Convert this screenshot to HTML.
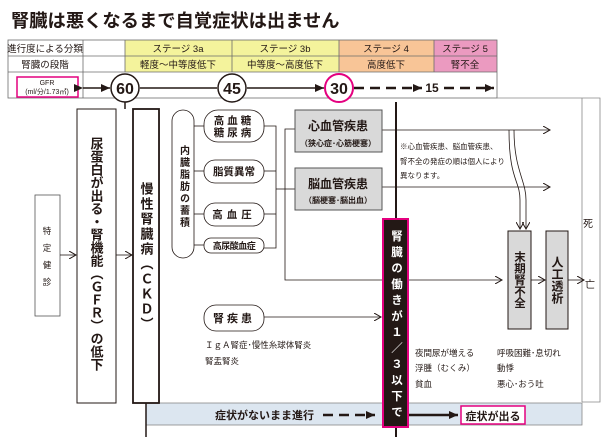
<!DOCTYPE html>
<html><head><meta charset="utf-8"><style>
html,body{margin:0;padding:0;background:#fff}
svg{display:block}
text{font-family:"Liberation Sans","Noto Sans CJK JP",sans-serif;fill:#231815}
.b{font-weight:bold}
.v{writing-mode:vertical-rl;text-anchor:start}
</style></head><body>
<svg width="610" height="437" viewBox="0 0 610 437" xmlns="http://www.w3.org/2000/svg">
<defs>
<marker id="oa" markerWidth="8" markerHeight="8" refX="7" refY="4" orient="auto" markerUnits="userSpaceOnUse"><path d="M0,0 L7,4 L0,8" fill="none" stroke="#231815" stroke-width="1"/></marker>
<marker id="fa" markerWidth="10" markerHeight="10" refX="9" refY="5" orient="auto" markerUnits="userSpaceOnUse"><path d="M0,1 L9,5 L0,9Z" fill="#231815"/></marker>
</defs>
<text x="11" y="27" font-size="18.3" class="b">腎臓は悪くなるまで自覚症状は出ません</text>
<rect x="125" y="40" width="214" height="32" fill="#f4f39c"/>
<rect x="339" y="40" width="95" height="32" fill="#f8c597"/>
<rect x="434" y="40" width="63" height="32" fill="#eb9ac0"/>
<g stroke="#6b6b6b" stroke-width="0.8" fill="none">
<rect x="8" y="40" width="489" height="58"/>
<line x1="8" y1="56" x2="497" y2="56"/><line x1="8" y1="72" x2="497" y2="72"/>
<line x1="83" y1="40" x2="83" y2="98"/><line x1="125" y1="40" x2="125" y2="72"/>
<line x1="232" y1="40" x2="232" y2="72"/><line x1="339" y1="40" x2="339" y2="72"/><line x1="434" y1="40" x2="434" y2="72"/>
</g>
<g font-size="9.5" text-anchor="middle">
<text x="45" y="52">進行度による分類</text><text x="45" y="68">腎臓の段階</text>
<text x="178" y="52">ステージ 3a</text><text x="285" y="52">ステージ 3b</text><text x="386" y="52">ステージ 4</text><text x="465" y="52">ステージ 5</text>
<text x="178" y="68">軽度～中等度低下</text><text x="285" y="68">中等度～高度低下</text><text x="386" y="68">高度低下</text><text x="465" y="68">腎不全</text>
</g>
<rect x="17" y="77" width="61" height="20" fill="none" stroke="#e4007f" stroke-width="1.5"/>
<text x="47" y="85" font-size="7" text-anchor="middle">GFR</text>
<text x="47" y="94" font-size="7" text-anchor="middle">(ml/分/1.73㎡)</text>
<g stroke="#231815" stroke-width="1.5">
<line x1="83" y1="88" x2="110" y2="88" marker-end="url(#fa)" marker-start="url(#fa)"/>
<line x1="140" y1="88" x2="217" y2="88" marker-start="url(#fa)"/>
<line x1="247" y1="88" x2="324" y2="88" marker-end="url(#fa)"/>
<line x1="354" y1="88" x2="422" y2="88" stroke-width="2.5" stroke-dasharray="10,6" marker-end="url(#fa)"/>
<line x1="444" y1="88" x2="494" y2="88" stroke-width="2.5" stroke-dasharray="10,6" marker-end="url(#fa)"/>
</g>
<text x="432" y="92" font-size="12" class="b" text-anchor="middle">15</text>
<g stroke-width="1.5" fill="#fff">
<circle cx="125" cy="88" r="14" stroke="#231815"/>
<circle cx="232" cy="88" r="14" stroke="#231815"/>
<circle cx="339" cy="88" r="14" stroke="#e4007f" stroke-width="2"/>
</g>
<g font-size="16" class="b" text-anchor="middle"><text x="125" y="94">60</text><text x="232" y="94">45</text><text x="339" y="94">30</text></g>
<g stroke="#888" fill="none" stroke-width="0.8">
<polyline points="497,98 600,98 600,402 582,402"/>
<line x1="582" y1="98" x2="582" y2="402"/>
</g>
<line x1="125" y1="102" x2="125" y2="109" stroke="#231815" stroke-width="1.5"/>
<rect x="146" y="403" width="436" height="22" fill="#dce6f0" stroke="#888" stroke-width="0.8"/>
<line x1="146" y1="403" x2="146" y2="437" stroke="#231815" stroke-width="1.5"/>
<line x1="159" y1="112" x2="159" y2="403" stroke="#231815" stroke-width="1.2"/>
<text x="215" y="419" font-size="11" class="b">症状がないまま進行</text>
<line x1="323" y1="415" x2="375" y2="415" stroke="#231815" stroke-width="2.5" stroke-dasharray="10,6" marker-end="url(#fa)"/>
<line x1="408" y1="415" x2="458" y2="415" stroke="#231815" stroke-width="2.5" marker-end="url(#fa)"/>
<rect x="461" y="406" width="64" height="18" fill="#fff" stroke="#e4007f" stroke-width="1.5"/>
<text x="493" y="420" font-size="11" class="b" text-anchor="middle">症状が出る</text>
<rect x="35" y="195" width="25" height="121" fill="#fff" stroke="#555" stroke-width="0.8"/>
<g font-size="8.5" text-anchor="middle"><text x="47" y="234">特</text><text x="47" y="251">定</text><text x="47" y="268">健</text><text x="47" y="285">診</text></g>
<line x1="60" y1="255" x2="76" y2="255" stroke="#231815" stroke-width="0.8" marker-end="url(#oa)"/>
<rect x="77" y="109" width="39" height="294" fill="#fff" stroke="#231815" stroke-width="1"/>
<text x="96" y="137" font-size="13" class="b v">尿蛋白が出る・腎機能（ＧＦＲ）の低下</text>
<line x1="116" y1="255" x2="132" y2="255" stroke="#231815" stroke-width="0.8" marker-end="url(#oa)"/>
<rect x="133" y="109" width="26" height="294" fill="#fff" stroke="#231815" stroke-width="1.8"/>
<text x="146" y="182" font-size="13" class="b v" letter-spacing="2">慢性腎臓病（ＣＫＤ）</text>
<rect x="172" y="110" width="22" height="148" rx="11" fill="#fff" stroke="#231815" stroke-width="0.8"/>
<text x="183" y="145" font-size="10" class="b v" letter-spacing="2">内臓脂肪の蓄積</text>
<g stroke="#231815" stroke-width="0.8" fill="#fff">
<rect x="204" y="110" width="60" height="32" rx="14"/>
<rect x="204" y="160" width="60" height="23" rx="11"/>
<rect x="204" y="203" width="60" height="23" rx="11"/>
<rect x="204" y="238" width="60" height="15" rx="7"/>
<rect x="204" y="305" width="60" height="26" rx="12"/>
</g>
<g stroke="#231815" stroke-width="0.8" fill="none">
<line x1="194" y1="126" x2="204" y2="126"/><line x1="194" y1="171" x2="204" y2="171"/><line x1="194" y1="214" x2="204" y2="214"/><line x1="194" y1="245" x2="204" y2="245"/>
<polyline points="264,126 276,126 276,248 264,248"/><line x1="264" y1="171" x2="276" y2="171"/><line x1="264" y1="214" x2="276" y2="214"/>
<line x1="276" y1="189" x2="285" y2="189"/>
<polyline points="295,129 285,129 285,280 383,280"/>
<line x1="285" y1="189" x2="295" y2="189"/>
<line x1="264" y1="317" x2="381" y2="317" marker-end="url(#oa)"/>
<line x1="382" y1="130" x2="550" y2="130" marker-end="url(#oa)"/>
<line x1="382" y1="187" x2="550" y2="187" marker-end="url(#oa)"/>
<path d="M509,130 C509,180 520,180 520,200 L520,229" marker-end="url(#oa)"/>
<path d="M514,130 C514,170 526,180 526,200 L526,229" marker-end="url(#oa)"/>
<line x1="408" y1="280" x2="502" y2="280" marker-end="url(#oa)"/>
<line x1="531" y1="280" x2="545" y2="280" marker-end="url(#oa)"/>
<line x1="568" y1="280" x2="584" y2="280" marker-end="url(#oa)"/>
</g>
<g font-size="10.5" class="b" text-anchor="middle">
<text x="234" y="124" letter-spacing="3">高血糖</text><text x="234" y="136" letter-spacing="3">糖尿病</text>
<text x="234" y="175">脂質異常</text><text x="234" y="218" letter-spacing="4">高血圧</text>
<text x="234" y="249" font-size="9" letter-spacing="-0.5">高尿酸血症</text>
<text x="234" y="322" font-size="11" letter-spacing="3">腎疾患</text>
</g>
<text x="205" y="348" font-size="8.5">ＩｇＡ腎症･慢性糸球体腎炎</text>
<text x="205" y="364" font-size="8.5">腎盂腎炎</text>
<rect x="295" y="110" width="87" height="42" fill="#d9d9d9" stroke="#555" stroke-width="1"/>
<rect x="295" y="168" width="87" height="42" fill="#d9d9d9" stroke="#555" stroke-width="1"/>
<g text-anchor="middle" class="b"><text x="338" y="130" font-size="12">心血管疾患</text><text x="338" y="146" font-size="8">（狭心症･心筋梗塞）</text>
<text x="338" y="188" font-size="12">脳血管疾患</text><text x="338" y="203" font-size="8">（脳梗塞･脳出血）</text></g>
<g font-size="7.5"><text x="400" y="149">※心血管疾患、脳血管疾患、</text><text x="400" y="164">腎不全の発症の順は個人により</text><text x="400" y="178">異なります。</text></g>
<line x1="396" y1="102" x2="396" y2="437" stroke="#231815" stroke-width="2"/>
<rect x="383" y="219" width="25" height="208" fill="#231815" stroke="#e4007f" stroke-width="2"/>
<text x="396" y="230" font-size="11.5" class="b v" style="fill:#fff" letter-spacing="4.5">腎臓の働きが１／３以下で</text>
<rect x="508" y="231" width="23" height="98" fill="#d9d9d9" stroke="#231815" stroke-width="1"/>
<rect x="546" y="231" width="22" height="98" fill="#d9d9d9" stroke="#231815" stroke-width="1"/>
<text x="519" y="251" font-size="11.5" class="b v">末期腎不全</text>
<text x="557" y="256" font-size="12" class="b v">人工透析</text>
<text x="588" y="227" font-size="10" text-anchor="middle">死</text>
<text x="590" y="288" font-size="10" text-anchor="middle">亡</text>
<g font-size="8.5"><text x="415" y="356">夜間尿が増える</text><text x="415" y="371">浮腫（むくみ）</text><text x="415" y="387">貧血</text>
<text x="497" y="356">呼吸困難･息切れ</text><text x="497" y="371">動悸</text><text x="497" y="387">悪心･おう吐</text></g>
</svg>
</body></html>
